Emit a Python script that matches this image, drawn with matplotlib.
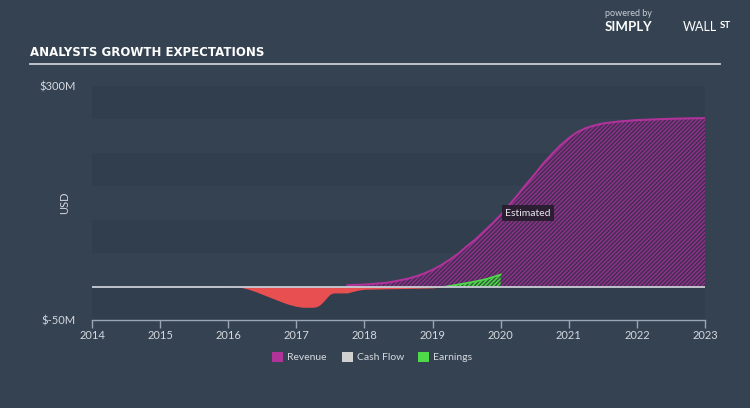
import matplotlib
matplotlib.use("Agg")
import matplotlib.pyplot as plt
import numpy as np
from matplotlib.patches import Rectangle

# ---- data (USD millions) ----
rev_x = [2017.75, 2017.875, 2018.0, 2018.125, 2018.25, 2018.375, 2018.5, 2018.625, 2018.75, 2018.875,
         2019.0, 2019.125, 2019.25, 2019.375, 2019.5, 2019.625, 2019.75, 2019.875,
         2020.0, 2020.125, 2020.25, 2020.375, 2020.5, 2020.625, 2020.75, 2020.875,
         2021.0, 2021.125, 2021.25, 2021.375, 2021.5, 2021.75, 2022.0, 2022.5, 2023.0]
rev_y = [2, 2.5, 3, 4, 5, 6.5, 9, 11.5, 15, 19.5,
         25, 32, 40, 49, 60, 70, 82, 94,
         107, 122, 137, 153, 168, 184, 198, 211,
         222, 231, 237, 241, 244, 247, 249, 251, 252]

earn_x = [2015.0, 2015.5, 2016.0, 2016.1, 2016.2, 2016.3, 2016.4, 2016.5, 2016.6, 2016.7,
          2016.8, 2016.9, 2017.0, 2017.1, 2017.2, 2017.25, 2017.3, 2017.35, 2017.4, 2017.45,
          2017.5, 2017.55, 2017.75, 2017.8, 2017.9, 2018.0, 2018.5, 2019.0, 2019.2]
earn_y = [0.8, 0.8, 0.5, 0, -1.5, -4, -7.5, -11.5, -15.5, -19.5,
          -23.5, -27, -29.5, -31, -31, -31, -30, -27, -22, -16,
          -11, -9.5, -9.5, -8, -5.5, -4, -3, -2, 0]

earn_est_x = [2019.2, 2019.4, 2019.6, 2019.8, 2020.0]
earn_est_y = [0, 3.5, 7, 11.5, 18]

cf_x = [2017.75, 2018.0, 2018.5, 2019.0]
cf_y = [-6, -4, -3, -2]

years = list(range(2014, 2024))
ytick_vals = [300, -50]
ytick_labels = ["$300M", "$-50M"]

# ---- style ----
BG = "#344252"
BAND = "#313e4e"
TXT = "#d5d9df"
REV = "#b0339a"
RED = "#e84f51"
GREEN = "#4fd84a"

plt.rcParams['font.family'] = ['Lato', 'DejaVu Sans']
plt.rcParams['hatch.linewidth'] = 1.1

fig = plt.figure(figsize=(7.5, 4.08), dpi=100, facecolor=BG)
ax = fig.add_axes([92/750, (408-320)/408, (705-92)/750, (320-86)/408])
ax.set_facecolor(BG)
ax.set_xlim(2014, 2023)
ax.set_ylim(-50, 300)

for lo in [250, 150, 50, -50]:
    ax.axhspan(lo, lo + 50, color=BAND, lw=0, zorder=0)

# revenue
ax.fill_between(rev_x, 0, rev_y, facecolor="#3f2e50", edgecolor="#8e3189",
                hatch="////////", lw=0, zorder=2)
ax.plot(rev_x, rev_y, color=REV, lw=1.5, zorder=3)

# cash flow
ax.fill_between(cf_x, 0, cf_y, facecolor="#3a3f48", edgecolor="#8a8f98",
                hatch="////////", lw=0, zorder=2)

# earnings
ex = np.array(earn_x); ey = np.array(earn_y)
ax.fill_between(ex, 0, ey, where=ey <= 0, interpolate=True, color=RED, lw=0, zorder=4)
ax.fill_between(ex, 0, ey, where=ey >= 0, interpolate=True, color="#3a9a45", lw=0, zorder=4)
ax.fill_between(earn_est_x, 0, earn_est_y, facecolor="#2f5a3a", edgecolor=GREEN,
                hatch="////////", lw=0, zorder=4)
ax.plot(earn_est_x, earn_est_y, color=GREEN, lw=1.3, zorder=5)

# zero line
ax.axhline(0, color="#c9ced6", lw=1.3, zorder=6)

for s in ["top", "right", "left"]:
    ax.spines[s].set_visible(False)
ax.spines["bottom"].set_color("#9aa6b4")
ax.spines["bottom"].set_linewidth(1.0)
ax.set_xticks(years)
ax.set_xticklabels([str(y) for y in years])
ax.tick_params(axis="x", colors="#9aa6b4", labelcolor=TXT, length=6, width=1.0,
               labelsize=8, pad=1)
ax.set_yticks(ytick_vals)
ax.set_yticklabels(ytick_labels)
ax.tick_params(axis="y", length=0, labelcolor=TXT, labelsize=8, pad=12)
ax.set_ylabel("USD", color=TXT, fontsize=8)
ax.yaxis.set_label_coords((70 - 92) / 613, 0.5)

# Estimated label
ax.text(2020.07, 110, "Estimated", color="#e8e8ee", fontsize=7.5, ha="left", va="center",
        zorder=10, bbox=dict(boxstyle="square,pad=0.3", fc="#241d2c", ec="none", alpha=0.9))

# title
fig.text(30/750, 1 - 52/408, "ANALYSTS GROWTH EXPECTATIONS", color="white", fontsize=8.5,
         fontweight="bold", family=["Liberation Sans Narrow", "DejaVu Sans"], va="center")
fig.add_artist(plt.Line2D([30/750, 720/750], [1 - 64/408, 1 - 64/408], color="#c9ced6", lw=1.3))

# logo text
fig.text(605/750, 1 - 14/408, "powered by", color="#c9ced6", fontsize=6.5, va="center")
fig.text(605/750, 1 - 27/408, "SIMPLY", color="white", fontsize=9.5, fontweight="bold", va="center")
fig.text(683/750, 1 - 27/408, "WALL", color="white", fontsize=9, va="center")
fig.text(720/750, 1 - 26/408, "ST", color="white", fontsize=7, fontweight="bold", va="center")

# legend
items = [("Revenue", REV, 272), ("Cash Flow", "#d0d0d0", 342), ("Earnings", GREEN, 418)]
for name, col, px in items:
    fig.add_artist(Rectangle((px/750, 1 - 362/408), 11/750, 10/408, transform=fig.transFigure,
                             facecolor=col, edgecolor="none"))
    fig.text((px + 15)/750, 1 - 357/408, name, color=TXT, fontsize=7.5, va="center")

fig.savefig("out.png", dpi=100, facecolor=BG)
